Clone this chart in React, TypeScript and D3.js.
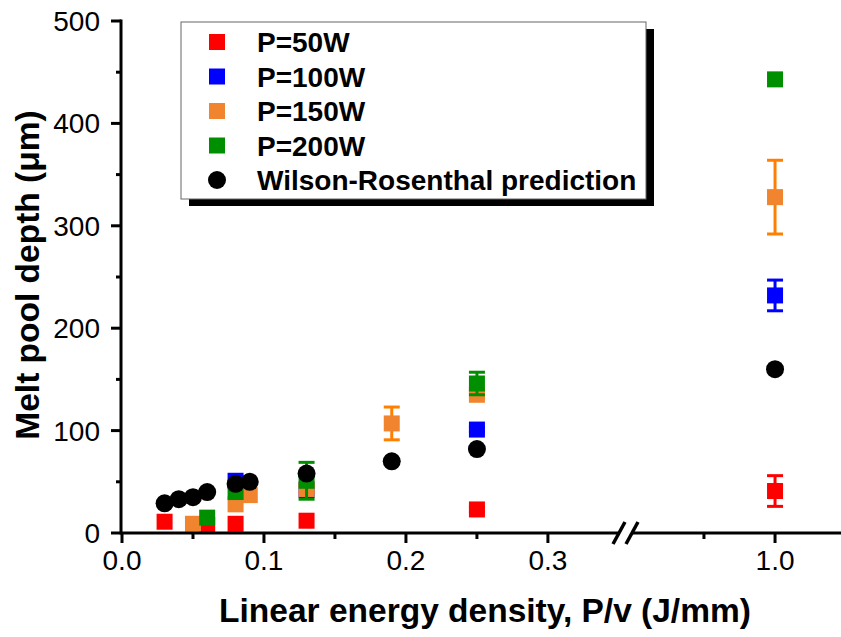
import React from "react";
import * as d3 from "d3";

// ---- data ----
const xTickLabels1 = [0.0, 0.1, 0.2, 0.3];
const xMinorTicks1 = [0.05, 0.15, 0.25];
const xTickLabels2 = [1.0];
const xMinorTicks2 = [0.95];
const yTicks = [0, 100, 200, 300, 400, 500];
const yMinorTicks = [50, 150, 250, 350, 450];

const p50X = [0.03, 0.06, 0.08, 0.13, 0.25, 1.0];
const p50Y = [11, 8, 9, 12, 23, 41];
const p50E = [0, 0, 0, 0, 2, 15];

const p100X = [0.08, 0.13, 0.25, 1.0];
const p100Y = [51, 42, 101, 232];
const p100E = [0, 0, 2, 15];

const p150X = [0.05, 0.08, 0.09, 0.13, 0.19, 0.25, 1.0];
const p150Y = [9, 28, 37, 43, 107, 135, 328];
const p150E = [0, 0, 0, 3, 16, 3, 36];

const p200X = [0.06, 0.08, 0.13, 0.25, 1.0];
const p200Y = [15, 40, 51, 146, 443];
const p200E = [0, 0, 18, 11, 0];

const wrX = [0.03, 0.04, 0.05, 0.06, 0.08, 0.09, 0.13, 0.19, 0.25, 1.0];
const wrY = [29, 33, 35, 40, 48, 50, 58, 70, 82, 160];

const legendLabels = ["P=50W", "P=100W", "P=150W", "P=200W", "Wilson-Rosenthal prediction"];

const FONT = "Arial, 'Liberation Sans', Helvetica, sans-serif";

const x1 = d3.scaleLinear().domain([0, 0.355]).range([122, 626]);
const x2 = d3.scaleLinear().domain([0.905, 1.045]).range([640, 839]);
const xs = (v: number) => (v < 0.6 ? x1(v) : x2(v));
const y = d3.scaleLinear().domain([0, 500]).range([533, 21]);

const series = [
  { xs: p50X, ys: p50Y, es: p50E, fill: "#ff0000", err: "#ff0000" },
  { xs: p100X, ys: p100Y, es: p100E, fill: "#0000ff", err: "#0000ff" },
  { xs: p150X, ys: p150Y, es: p150E, fill: "#f0842f", err: "#ff8000" },
  { xs: p200X, ys: p200Y, es: p200E, fill: "#008f00", err: "#008f00" },
];

const SQ = 16;

export default function App() {
  const axisY = 533;
  const axisX = 121;
  return (
    <svg
      width={841}
      height={637}
      style={{ position: "absolute", left: 0, top: 0, background: "#fff" }}
      fontFamily={FONT}
    >
      <rect x={0} y={0} width={841} height={637} fill="#fff" />

      {/* data */}
      {series.map((s, si) => (
        <g key={si}>
          {s.xs.map((xv, i) => {
            const cx = xs(xv);
            const cy = y(s.ys[i]);
            const e = s.es[i];
            return (
              <g key={i}>
                {e > 0 && (
                  <g stroke={s.err} strokeWidth={3}>
                    <line x1={cx} x2={cx} y1={y(s.ys[i] + e)} y2={y(s.ys[i] - e)} />
                    <line x1={cx - SQ / 2} x2={cx + SQ / 2} y1={y(s.ys[i] + e)} y2={y(s.ys[i] + e)} />
                    <line x1={cx - SQ / 2} x2={cx + SQ / 2} y1={y(s.ys[i] - e)} y2={y(s.ys[i] - e)} />
                  </g>
                )}
                <rect x={cx - SQ / 2} y={cy - SQ / 2} width={SQ} height={SQ} fill={s.fill} />
              </g>
            );
          })}
        </g>
      ))}
      {wrX.map((xv, i) => (
        <circle key={i} cx={xs(xv)} cy={y(wrY[i])} r={9} fill="#000" />
      ))}

      {/* y axis */}
      <line x1={axisX} x2={axisX} y1={axisY + 1.5} y2={y(500) - 1.5} stroke="#000" strokeWidth={3} />
      {yTicks.map((t) => (
        <g key={t}>
          <line x1={axisX - 10} x2={axisX} y1={y(t)} y2={y(t)} stroke="#000" strokeWidth={3} />
          <text x={100} y={y(t)} dy="0.36em" textAnchor="end" fontSize={28}>
            {t}
          </text>
        </g>
      ))}
      {yMinorTicks.map((t) => (
        <line key={t} x1={axisX - 5} x2={axisX} y1={y(t)} y2={y(t)} stroke="#000" strokeWidth={3} />
      ))}

      {/* x axis with break */}
      <line x1={axisX} x2={618} y1={axisY} y2={axisY} stroke="#000" strokeWidth={3} />
      <line x1={632} x2={841} y1={axisY} y2={axisY} stroke="#000" strokeWidth={3} />
      <line x1={613} x2={625} y1={544} y2={522} stroke="#000" strokeWidth={3.5} />
      <line x1={626} x2={638} y1={544} y2={522} stroke="#000" strokeWidth={3.5} />
      {xTickLabels1.map((t) => (
        <g key={t}>
          <line x1={x1(t)} x2={x1(t)} y1={axisY} y2={axisY + 10} stroke="#000" strokeWidth={3} />
          <text x={x1(t)} y={570} textAnchor="middle" fontSize={28}>
            {t.toFixed(1)}
          </text>
        </g>
      ))}
      {xMinorTicks1.map((t) => (
        <line key={t} x1={x1(t)} x2={x1(t)} y1={axisY} y2={axisY + 6} stroke="#000" strokeWidth={3} />
      ))}
      {xTickLabels2.map((t) => (
        <g key={t}>
          <line x1={x2(t)} x2={x2(t)} y1={axisY} y2={axisY + 10} stroke="#000" strokeWidth={3} />
          <text x={x2(t)} y={570} textAnchor="middle" fontSize={28}>
            {t.toFixed(1)}
          </text>
        </g>
      ))}
      {xMinorTicks2.map((t) => (
        <line key={t} x1={x2(t)} x2={x2(t)} y1={axisY} y2={axisY + 6} stroke="#000" strokeWidth={3} />
      ))}

      {/* axis titles */}
      <text x={485} y={622} textAnchor="middle" fontSize={33.5} fontWeight="bold">
        Linear energy density, P/v (J/mm)
      </text>
      <text
        transform="translate(39,275) rotate(-90)"
        textAnchor="middle"
        fontSize={33.5}
        fontWeight="bold"
      >
        Melt pool depth (μm)
      </text>

      {/* legend */}
      <rect x={189} y={29} width={465} height={177} fill="#000" />
      <rect x={181} y={22} width={465} height={177} fill="#fff" stroke="#666" strokeWidth={1} />
      {legendLabels.map((lab, i) => {
        const ly = 42 + i * 34.5;
        const color = i < 4 ? series[i].fill : "#000";
        return (
          <g key={lab}>
            {i < 4 ? (
              <rect x={217 - 8} y={ly - 8} width={16} height={16} fill={color} />
            ) : (
              <circle cx={217} cy={ly} r={9} fill="#000" />
            )}
            <text x={257} y={ly} dy="0.36em" fontSize={28} fontWeight="bold">
              {lab}
            </text>
          </g>
        );
      })}
    </svg>
  );
}
